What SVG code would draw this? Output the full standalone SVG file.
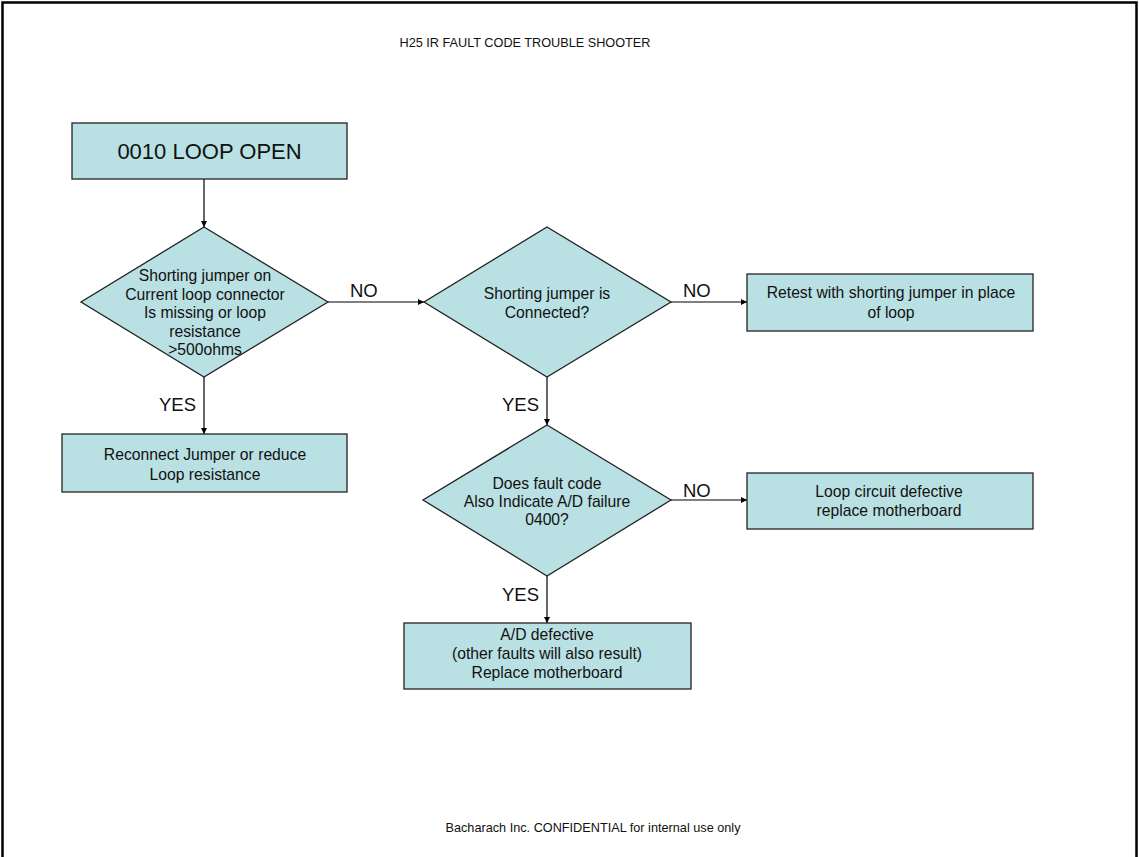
<svg xmlns="http://www.w3.org/2000/svg" width="1139" height="857" viewBox="0 0 1139 857">
<style>
.shape{fill:#B9E0E3;stroke:#222;stroke-width:1.3}
.t{font-family:"Liberation Sans",Arial,sans-serif;font-size:15.7px;fill:#111;text-anchor:middle}
.lbl{font-family:"Liberation Sans",Arial,sans-serif;font-size:18.5px;fill:#111}
.small{font-family:"Liberation Sans",Arial,sans-serif;font-size:12.7px;fill:#111;text-anchor:middle}
.big{font-family:"Liberation Sans",Arial,sans-serif;font-size:22px;fill:#111;text-anchor:middle}
.c{stroke:#000;stroke-width:1.2;fill:none;marker-end:url(#ah)}
</style>
<defs>
<marker id="ah" viewBox="0 0 8 8" refX="8" refY="4" markerWidth="6" markerHeight="6" markerUnits="userSpaceOnUse" orient="auto">
<path d="M0,0 L8,4 L0,8 z" fill="#000"/>
</marker>
</defs>
<rect width="1139" height="857" fill="#fff"/>
<path d="M2.5,857 V2.5 H1136.5 V857" fill="none" stroke="#000" stroke-width="2.5"/>
<text class="small" x="525" y="47">H25 IR FAULT CODE TROUBLE SHOOTER</text>
<text class="small" x="593" y="832">Bacharach Inc. CONFIDENTIAL for internal use only</text>

<g id="connectors">
<line class="c" x1="204" y1="179" x2="204" y2="227"/>
<line class="c" x1="204" y1="377" x2="204" y2="434"/>
<line class="c" x1="328" y1="302" x2="424" y2="302"/>
<line class="c" x1="671" y1="302" x2="747" y2="302"/>
<line class="c" x1="547" y1="377" x2="547" y2="425"/>
<line class="c" x1="671" y1="500" x2="747" y2="500"/>
<line class="c" x1="547" y1="576" x2="547" y2="623"/>
<text class="lbl" x="159" y="411">YES</text>
<text class="lbl" x="350" y="297">NO</text>
<text class="lbl" x="683" y="297">NO</text>
<text class="lbl" x="502" y="411">YES</text>
<text class="lbl" x="683" y="497">NO</text>
<text class="lbl" x="502" y="601">YES</text>
</g>

<g id="start">
<rect class="shape" x="72" y="123" width="275" height="56"/>
<text class="big" x="209.5" y="159">0010 LOOP OPEN</text>
</g>

<g id="decision1">
<polygon class="shape" points="204,227 328,302 204,377 81,302"/>
<text class="t" x="205" y="281">Shorting jumper on</text>
<text class="t" x="205" y="299.5">Current loop connector</text>
<text class="t" x="205" y="318">Is missing or loop</text>
<text class="t" x="205" y="336.5">resistance</text>
<text class="t" x="205" y="355">&gt;500ohms</text>
</g>

<g id="reconnect">
<rect class="shape" x="62" y="434" width="285" height="58"/>
<text class="t" x="205" y="460">Reconnect Jumper or reduce</text>
<text class="t" x="205" y="480">Loop resistance</text>
</g>

<g id="decision2">
<polygon class="shape" points="547,227 671,302 547,377 424,302"/>
<text class="t" x="547" y="299">Shorting jumper is</text>
<text class="t" x="547" y="317.5">Connected?</text>
</g>

<g id="retest">
<rect class="shape" x="747" y="274" width="286" height="57"/>
<text class="t" x="891" y="298">Retest with shorting jumper in place</text>
<text class="t" x="891" y="318">of loop</text>
</g>

<g id="decision3">
<polygon class="shape" points="547,425 671,500 547,576 423,500"/>
<text class="t" x="547" y="489">Does fault code</text>
<text class="t" x="547" y="507">Also Indicate A/D failure</text>
<text class="t" x="547" y="525">0400?</text>
</g>

<g id="loopdefective">
<rect class="shape" x="747" y="473" width="286" height="56"/>
<text class="t" x="889" y="497">Loop circuit defective</text>
<text class="t" x="889" y="516">replace motherboard</text>
</g>

<g id="addefective">
<rect class="shape" x="404" y="623" width="287" height="66"/>
<text class="t" x="547" y="640">A/D defective</text>
<text class="t" x="547" y="659">(other faults will also result)</text>
<text class="t" x="547" y="678">Replace motherboard</text>
</g>
</svg>
